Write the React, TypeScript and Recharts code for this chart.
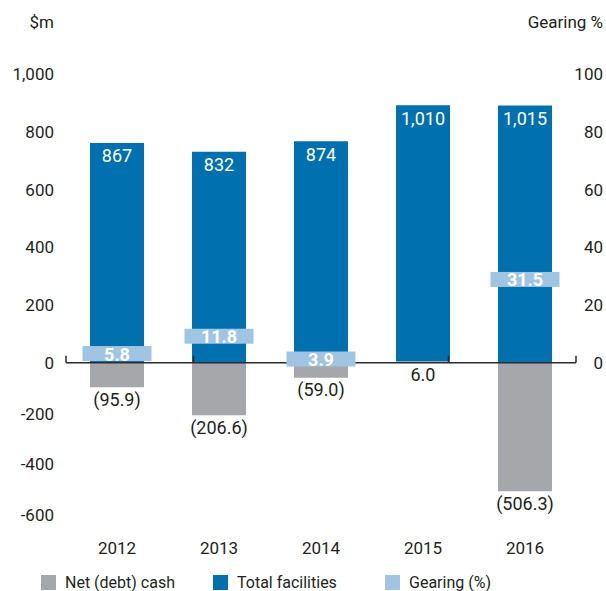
import React from 'react';
import { ComposedChart, Bar, Line, XAxis, YAxis, ReferenceLine, LabelList } from 'recharts';

const years = ['2012', '2013', '2014', '2015', '2016'];
const netDebtCash = [-95.9, -206.6, -59.0, 6.0, -506.3];
const totalFacilities = [867, 832, 874, 1010, 1015];
const gearing: (number | null)[] = [5.8, 11.8, 3.9, null, 31.5];

const upperTicks = [0, 200, 400, 600, 800, 1000];
const lowerTicks = [-600, -400, -200];
const gearingTicks = [0, 20, 40, 60, 80, 100];

const data = years.map((year, i) => ({
  year,
  net: netDebtCash[i],
  total: totalFacilities[i],
  gearing: gearing[i],
}));

const GREY = '#a6a7ab';
const BLUE = '#0070ae';
const LIGHT = '#a0c5e3';
const TEXT = '#231f20';
const FONT = 'Roboto, "Noto Sans", sans-serif';

const fmt = (v: number) => v.toLocaleString('en-US');
const fmtNet = (v: number) => (v < 0 ? `(${Math.abs(v).toFixed(1)})` : v.toFixed(1));

const axisTick = (shift: number, anchor: 'end' | 'middle', dy = 0) => (p: any) => (
  <text
    x={p.x + shift}
    y={p.y + dy}
    textAnchor={anchor}
    dominantBaseline="central"
    fill={TEXT}
    fontSize={17}
    fontFamily={FONT}
  >
    {fmt(p.payload.value)}
  </text>
);

function NetLabel(props: any) {
  const { x, y, width, height, value } = props;
  const bottom = Math.max(Number(y), Number(y) + Number(height));
  return (
    <text x={Number(x) + Number(width) / 2} y={bottom + 12} textAnchor="middle" dominantBaseline="central"
      fill={TEXT} fontSize={18} fontFamily={FONT}>
      {fmtNet(value)}
    </text>
  );
}

function TotalLabel(props: any) {
  const { x, y, width, height, value } = props;
  const top = Math.min(Number(y), Number(y) + Number(height));
  return (
    <text x={Number(x) + Number(width) / 2} y={top + 13} textAnchor="middle" dominantBaseline="central"
      fill="#ffffff" fontSize={18} fontFamily={FONT}>
      {fmt(value)}
    </text>
  );
}

function GearingMarker(props: any) {
  const { cx, cy, payload, index } = props;
  if (payload == null || payload.gearing == null || cy == null) return <g key={`gm-${index}`} />;
  return (
    <g key={`gm-${index}`}>
      <rect x={cx - 34.5} y={cy} width={69} height={15} fill={LIGHT} />
      <text x={cx} y={cy + 8} textAnchor="middle" dominantBaseline="central" fill="#ffffff"
        fontSize={18} fontWeight={700} fontFamily={FONT}>
        {payload.gearing.toFixed(1)}
      </text>
    </g>
  );
}

const legendItems = [
  { name: 'Net (debt) cash', color: GREY },
  { name: 'Total facilities', color: BLUE },
  { name: 'Gearing (%)', color: LIGHT },
];

export default function App() {
  return (
    <div style={{ position: 'absolute', left: 0, top: 0, width: 606, height: 591, fontFamily: FONT, color: TEXT }}>
      <ComposedChart
        width={606}
        height={591}
        data={data}
        stackOffset="sign"
        margin={{ top: 60, right: 0, bottom: 31, left: 0 }}
      >
        <XAxis
          xAxisId="cat"
          dataKey="year"
          axisLine={false}
          tickLine={false}
          tickSize={0}
          tickMargin={11}
          tick={(p: any) => (
            <text x={p.x} y={p.y + 7} textAnchor="middle" dominantBaseline="central" fill={TEXT} fontSize={17} fontFamily={FONT}>
              {p.payload.value}
            </text>
          )}
        />
        <XAxis xAxisId="num" type="number" domain={[0, years.length]} hide />
        <YAxis
          yAxisId="lbl"
          type="number"
          width={66}
          domain={[-580, 1050]}
          allowDataOverflow
          ticks={upperTicks}
          interval={0}
          axisLine={false}
          tickLine={false}
          tickSize={0}
          tickMargin={12}
          tick={axisTick(0, 'end')}
        />
        <YAxis
          yAxisId="amt"
          type="number"
          mirror
          domain={[-659, 1194]}
          allowDataOverflow
          ticks={lowerTicks}
          interval={0}
          axisLine={false}
          tickLine={false}
          tickSize={0}
          tickMargin={0}
          tick={axisTick(-12, 'end')}
        />
        <YAxis
          yAxisId="pct"
          orientation="right"
          type="number"
          width={30}
          domain={[-58, 105]}
          allowDataOverflow
          ticks={gearingTicks}
          interval={0}
          axisLine={false}
          tickLine={false}
          tickSize={0}
          tickMargin={0}
          tick={axisTick(27, 'end')}
        />
        <Bar xAxisId="cat" yAxisId="amt" dataKey="net" stackId="s" fill={GREY} barSize={54} isAnimationActive={false}>
          <LabelList dataKey="net" content={NetLabel} />
        </Bar>
        <Bar xAxisId="cat" yAxisId="amt" dataKey="total" stackId="s" fill={BLUE} barSize={54} isAnimationActive={false}>
          <LabelList dataKey="total" content={TotalLabel} />
        </Bar>
        <ReferenceLine xAxisId="cat" yAxisId="amt" y={0} stroke="#2b2b2b" strokeWidth={1.5} />
        {Array.from({ length: years.length + 1 }, (_, k) => (
          <ReferenceLine
            key={`tk-${k}`}
            xAxisId="num"
            yAxisId="amt"
            segment={[{ x: k, y: 0 }, { x: k, y: 28 }]}
            stroke="#2b2b2b"
            strokeWidth={1.5}
          />
        ))}
        <Line
          xAxisId="cat"
          yAxisId="pct"
          dataKey="gearing"
          stroke="none"
          dot={GearingMarker}
          activeDot={false}
          isAnimationActive={false}
        />
      </ComposedChart>

      <div style={{ position: 'absolute', left: 0, top: 12, width: 54, textAlign: 'right', fontSize: 17, lineHeight: '20px' }}>
        $m
      </div>
      <div style={{ position: 'absolute', left: 0, top: 12, width: 603, textAlign: 'right', fontSize: 17, lineHeight: '20px' }}>
        Gearing %
      </div>

      <div style={{ position: 'absolute', left: 41, top: 574, display: 'flex', fontSize: 16, lineHeight: '17px' }}>
        {legendItems.map((item) => (
          <div key={item.name} style={{ width: 172, display: 'flex', alignItems: 'center' }}>
            <div style={{ width: 15, height: 15, background: item.color, marginRight: 9 }} />
            <span>{item.name}</span>
          </div>
        ))}
      </div>
    </div>
  );
}
